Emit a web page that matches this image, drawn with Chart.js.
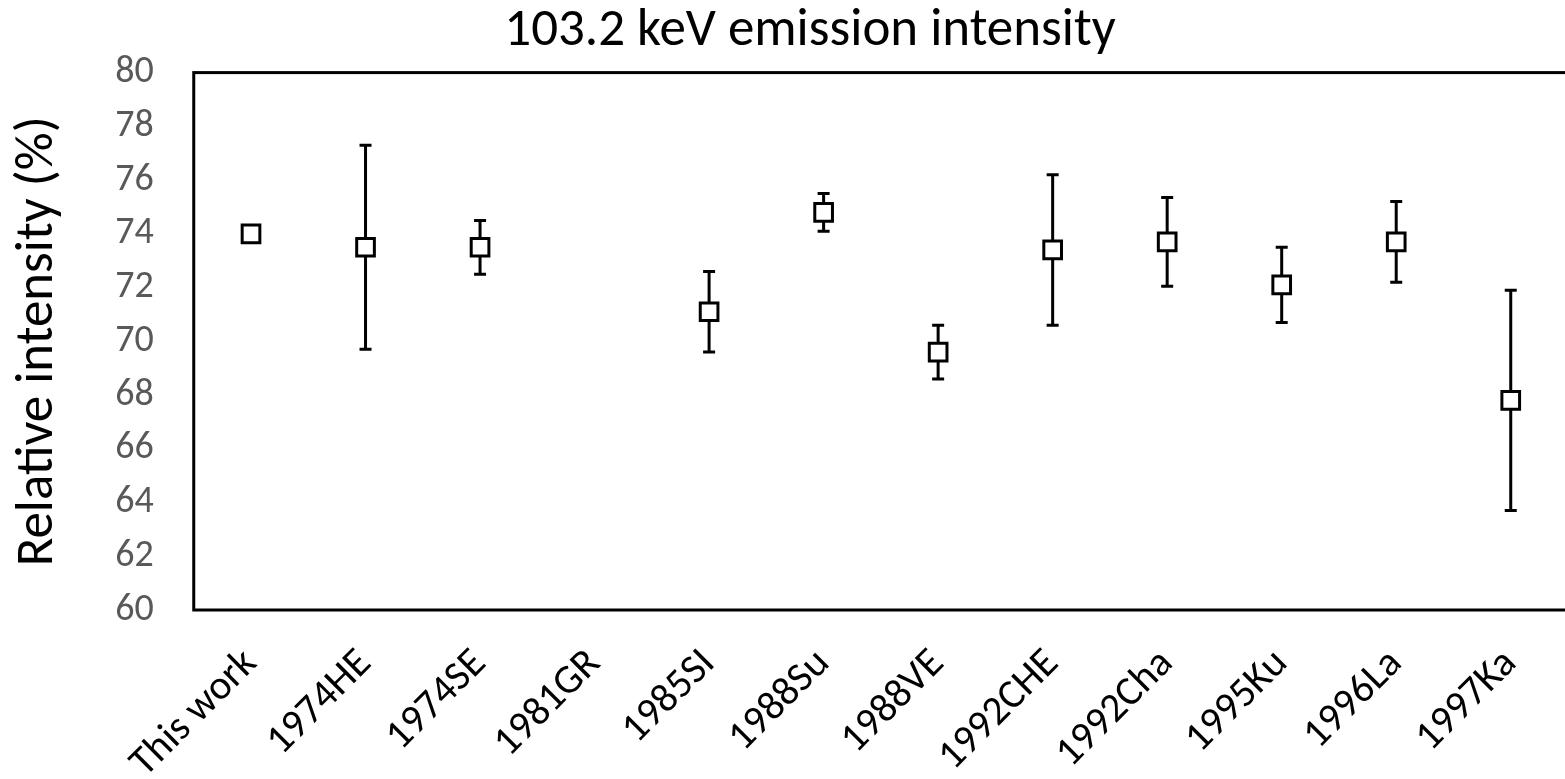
<!DOCTYPE html>
<html>
<head>
<meta charset="utf-8">
<title>103.2 keV emission intensity</title>
<script src="https://cdn.jsdelivr.net/npm/chart.js@4.4.0/dist/chart.umd.min.js"></script>
<style>
  html, body { margin: 0; padding: 0; background: #fff; overflow: hidden; }
  /* la zone de tracé déborde de 3px à droite, comme sur la figure d'origine */
  #wrap { width: 1568px; height: 779px; }
</style>
</head>
<body>
<div id="wrap"><canvas id="chart"></canvas></div>
<script>
// Données
const references = ['This work', '1974HE', '1974SE', '1981GR', '1985SI', '1988Su',
                    '1988VE', '1992CHE', '1992Cha', '1995Ku', '1996La', '1997Ka'];
const intensities = [74.0, 73.5, 73.5, null, 71.1, 74.8, 69.6, 73.4, 73.7, 72.1, 73.7, 67.8];
const uncertainties = [0.2, 3.8, 1.0, null, 1.5, 0.7, 1.0, 2.8, 1.65, 1.4, 1.5, 4.1];
const yMin = 60;
const yMax = 80;
const yStep = 2;

const FONT = 'Calibri, Carlito, Lato, "Open Sans", sans-serif';

// Barres d'erreur dessinées sous les marqueurs, via les échelles du graphique
const errorBars = {
    id: 'errorBars',
    beforeDatasetsDraw(chart) {
        const { ctx, scales: { x, y } } = chart;
        ctx.save();
        ctx.strokeStyle = '#000';
        ctx.lineWidth = 3;
        ctx.lineCap = 'butt';
        intensities.forEach((v, i) => {
            if (v === null || uncertainties[i] === null) return;
            const px = x.getPixelForValue(i);
            const top = y.getPixelForValue(v + uncertainties[i]);
            const bottom = y.getPixelForValue(v - uncertainties[i]);
            ctx.beginPath();
            ctx.moveTo(px, top);
            ctx.lineTo(px, bottom);
            ctx.moveTo(px - 6, top);
            ctx.lineTo(px + 6, top);
            ctx.moveTo(px - 6, bottom);
            ctx.lineTo(px + 6, bottom);
            ctx.stroke();
        });
        ctx.restore();
    }
};

// Cadre noir autour de la zone de tracé
const plotFrame = {
    id: 'plotFrame',
    afterDraw(chart) {
        const { ctx, chartArea: a } = chart;
        ctx.save();
        ctx.strokeStyle = '#000';
        ctx.lineWidth = 3;
        ctx.strokeRect(a.left, a.top, a.right - a.left, a.bottom - a.top);
        ctx.restore();
    }
};

// Le titre Excel n'est pas centré sur toute la largeur : on décale sa boîte
const titleShift = {
    id: 'titleShift',
    afterLayout(chart) {
        if (chart.titleBlock) chart.titleBlock.left = 52;
    }
};

new Chart(document.getElementById('chart'), {
    type: 'line',
    data: {
        labels: references,
        datasets: [{
            data: intensities,
            showLine: false,
            pointStyle: 'rect',
            pointRadius: 12.5,
            pointHoverRadius: 12.5,
            pointBackgroundColor: '#fff',
            pointBorderColor: '#000',
            pointBorderWidth: 3,
            pointHoverBorderWidth: 3
        }]
    },
    options: {
        responsive: true,
        maintainAspectRatio: false,
        animation: false,
        // pas de marge automatique pour les marqueurs : la zone va jusqu'au bord droit
        layout: { padding: 0, autoPadding: false },
        plugins: {
            legend: { display: false },
            tooltip: { enabled: false },
            title: {
                display: true,
                text: '103.2 keV emission intensity',
                color: '#000',
                font: { family: FONT, size: 53, weight: 'normal' },
                padding: { top: 0, bottom: 9 }
            }
        },
        scales: {
            x: {
                type: 'category',
                offset: true,
                grid: { display: false, drawTicks: false },
                border: { display: false },
                ticks: {
                    autoSkip: false,
                    minRotation: 45,
                    maxRotation: 45,
                    padding: 30,
                    color: '#000',
                    font: { family: FONT, size: 41 }
                },
                afterFit(scale) {
                    scale.height = 169;
                    // les étiquettes tournées ne doivent pas rétrécir la zone de tracé
                    scale.paddingLeft = 0;
                    scale.paddingRight = 0;
                }
            },
            y: {
                min: yMin,
                max: yMax,
                grid: { display: false, drawTicks: false },
                border: { display: false },
                ticks: {
                    stepSize: yStep,
                    padding: 40,
                    color: '#595959',
                    font: { family: FONT, size: 38 }
                },
                title: {
                    display: true,
                    text: 'Relative intensity (%)',
                    color: '#000',
                    font: { family: FONT, size: 53 },
                    padding: { top: 7, bottom: 0 }
                },
                afterFit(scale) { scale.width = 193.75; }
            }
        }
    },
    plugins: [errorBars, plotFrame, titleShift]
});
</script>
</body>
</html>
